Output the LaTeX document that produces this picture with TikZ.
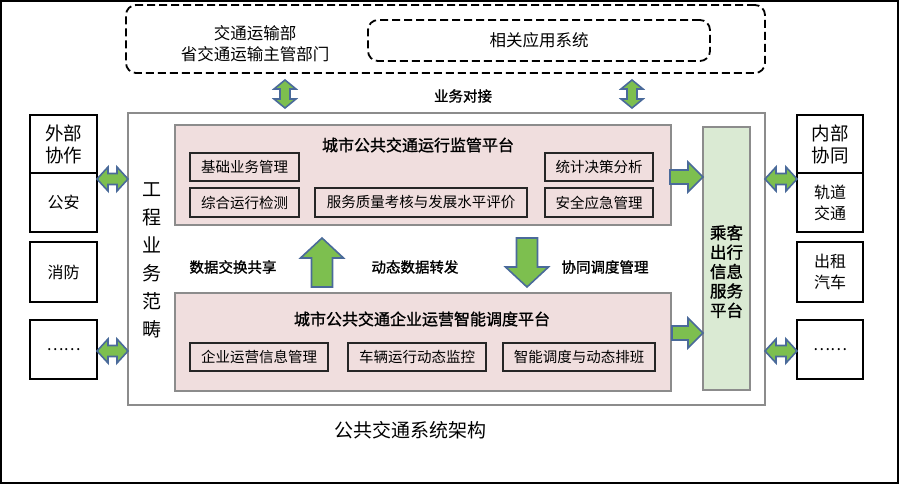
\documentclass[tikz,border=0pt]{standalone}
\usepackage{fontspec}
\setmainfont{Noto Sans CJK SC}
\newfontfamily\medfont[FakeBold=1.2]{Noto Sans CJK SC}
\usetikzlibrary{calc}
\definecolor{pinkfill}{HTML}{F0DEDE}
\definecolor{greenfill}{HTML}{DAEAD3}
\definecolor{arrowgreen}{HTML}{7DBF4F}
\definecolor{arrowblue}{HTML}{4A6A9A}
\definecolor{framegray}{HTML}{8C8C8C}
\newcommand{\HDArrow}[3]{% x1 x2 y : horizontal double arrow
  \draw[blockarrow] (#1,#3) -- ({#1+11},{#3-12}) -- ({#1+11},{#3-5.5}) -- ({#2-11},{#3-5.5}) -- ({#2-11},{#3-12}) -- (#2,#3) -- ({#2-11},{#3+12}) -- ({#2-11},{#3+5.5}) -- ({#1+11},{#3+5.5}) -- ({#1+11},{#3+12}) -- cycle;}
\newcommand{\VDArrow}[3]{% x y1 y2 : vertical double arrow
  \draw[blockarrow] (#1,#2) -- ({#1+11},{#2+9}) -- ({#1+5},{#2+9}) -- ({#1+5},{#3-9}) -- ({#1+11},{#3-9}) -- (#1,#3) -- ({#1-11},{#3-9}) -- ({#1-5},{#3-9}) -- ({#1-5},{#2+9}) -- ({#1-11},{#2+9}) -- cycle;}
\newcommand{\RArrow}[3]{% x1 x2 y : right arrow
  \draw[blockarrow] (#1,{#3-7}) -- ({#2-15},{#3-7}) -- ({#2-15},{#3-15}) -- (#2,#3) -- ({#2-15},{#3+15}) -- ({#2-15},{#3+7}) -- (#1,{#3+7}) -- cycle;}
\newcommand{\UArrow}[3]{% x ybottom ytip : vertical single arrow
  \draw[blockarrow] ({#1-10.5},#2) -- ({#1-10.5},{#3+(#2-#3)/abs(#2-#3)*20}) -- ({#1-21.5},{#3+(#2-#3)/abs(#2-#3)*20}) -- (#1,#3) -- ({#1+21.5},{#3+(#2-#3)/abs(#2-#3)*20}) -- ({#1+10.5},{#3+(#2-#3)/abs(#2-#3)*20}) -- ({#1+10.5},#2) -- cycle;}
\begin{document}
\begin{tikzpicture}[x=1pt,y=-1pt,
  every node/.style={inner sep=0pt, outer sep=0pt},
  dashbox/.style={draw=black, line width=1.8pt, dash pattern=on 8pt off 4pt, rounded corners=10pt},
  blackbox/.style={draw=black, line width=2.4pt, fill=white, align=center},
  platbox/.style={draw=framegray, line width=2pt, fill=pinkfill},
  subbox/.style={draw=black!85, line width=1.2pt, fill=pinkfill, font=\fontsize{14.5}{16}\selectfont},
  blockarrow/.style={draw=arrowblue, line width=1.6pt, fill=arrowgreen, line join=miter},
  txtA/.style={font=\fontsize{16.5}{21}\selectfont, align=center},
  lbl/.style={font=\medfont\fontsize{14.5}{16}\selectfont},
  ttl/.style={font=\medfont\fontsize{16}{18}\selectfont},
  side/.style={font=\fontsize{16}{21}\selectfont, align=center},
]
\useasboundingbox (0,0) rectangle (900,485);
\draw[line width=2pt] (1,1) rectangle (898,483);

% top external systems
\node[dashbox, minimum width=639, minimum height=68] (ext) at (445.5,39) {};
\node[dashbox, minimum width=342, minimum height=41, txtA] (apps) at (539,40.5) {相关应用系统};
\node[txtA] (gov) at (255,43.5) {交通运输部\\省交通运输主管部门};

% main engineering frame
\node[draw=framegray, line width=2pt, fill=white, minimum width=637, minimum height=292] (main) at (446.5,259) {};
\node[font=\fontsize{19}{28}\selectfont, align=center] (scope) at (152,260) {工\\程\\业\\务\\范\\畴};

\VDArrow{285}{80}{108}
\VDArrow{632}{80}{108}
\node[lbl] (dock) at (463,96) {业务对接};

% upper platform
\node[platbox, minimum width=496, minimum height=100] (up) at (423,175) {};
\node[ttl] (uptitle) at (418,145) {城市公共交通运行监管平台};
\node[subbox, minimum width=109, minimum height=28] (s1) at (244.5,167) {基础业务管理};
\node[subbox, minimum width=109, minimum height=29] (s2) at (244.5,202.5) {综合运行检测};
\node[subbox, minimum width=212, minimum height=29] (s3) at (421,202.5) {服务质量考核与发展水平评价};
\node[subbox, minimum width=108, minimum height=28] (s4) at (599,167) {统计决策分析};
\node[subbox, minimum width=108, minimum height=29] (s5) at (599,202.5) {安全应急管理};

% lower platform
\node[platbox, minimum width=496, minimum height=98] (low) at (423,342) {};
\node[ttl] (lowtitle) at (422,319) {城市公共交通企业运营智能调度平台};
\node[subbox, minimum width=138, minimum height=28] (t1) at (259,357) {企业运营信息管理};
\node[subbox, minimum width=138, minimum height=28] (t2) at (417,357) {车辆运行动态监控};
\node[subbox, minimum width=152, minimum height=28] (t3) at (579,357) {智能调度与动态排班};

% middle arrows and labels
\UArrow{322}{287}{238}
\UArrow{527}{238}{287}
\node[lbl] (m1) at (233,267) {数据交换共享};
\node[lbl] (m2) at (415,267) {动态数据转发};
\node[lbl] (m3) at (605,267) {协同调度管理};

% passenger platform
\node[draw=framegray, line width=2pt, fill=greenfill, minimum width=47, minimum height=263] (pass) at (726.5,258.5) {};
\node[font=\medfont\fontsize{16.5}{19.4}\selectfont, align=center] (passtxt) at (726.5,271.5) {乘客\\出行\\信息\\服务\\平台};
\RArrow{670}{703}{177}
\RArrow{672}{703}{333}

% left external cooperation
\node[blackbox, minimum width=67, minimum height=58, font=\fontsize{18.5}{22}\selectfont] (wa) at (63.5,144) {外部\\协作};
\node[blackbox, minimum width=67, minimum height=59, side] (wb) at (63.5,202.5) {公安};
\node[blackbox, minimum width=67, minimum height=60, side] (wc) at (63.5,272) {消防};
\node[blackbox, minimum width=67, minimum height=59, side] (wd) at (63.5,349.5) {……};

% right internal cooperation
\node[blackbox, minimum width=66, minimum height=58, font=\fontsize{18.5}{22}\selectfont] (na) at (830,144) {内部\\协同};
\node[blackbox, minimum width=66, minimum height=59, side] (nb) at (830,202.5) {轨道\\交通};
\node[blackbox, minimum width=66, minimum height=60, side] (nc) at (830,272) {出租\\汽车};
\node[blackbox, minimum width=66, minimum height=59, side] (nd) at (830,349.5) {……};

\HDArrow{97}{128}{179}
\HDArrow{97}{128}{351}
\HDArrow{765}{797}{179}
\HDArrow{765}{797}{351}

\node[font=\fontsize{19}{22}\selectfont] (caption) at (410,430) {公共交通系统架构};
\end{tikzpicture}
\end{document}
